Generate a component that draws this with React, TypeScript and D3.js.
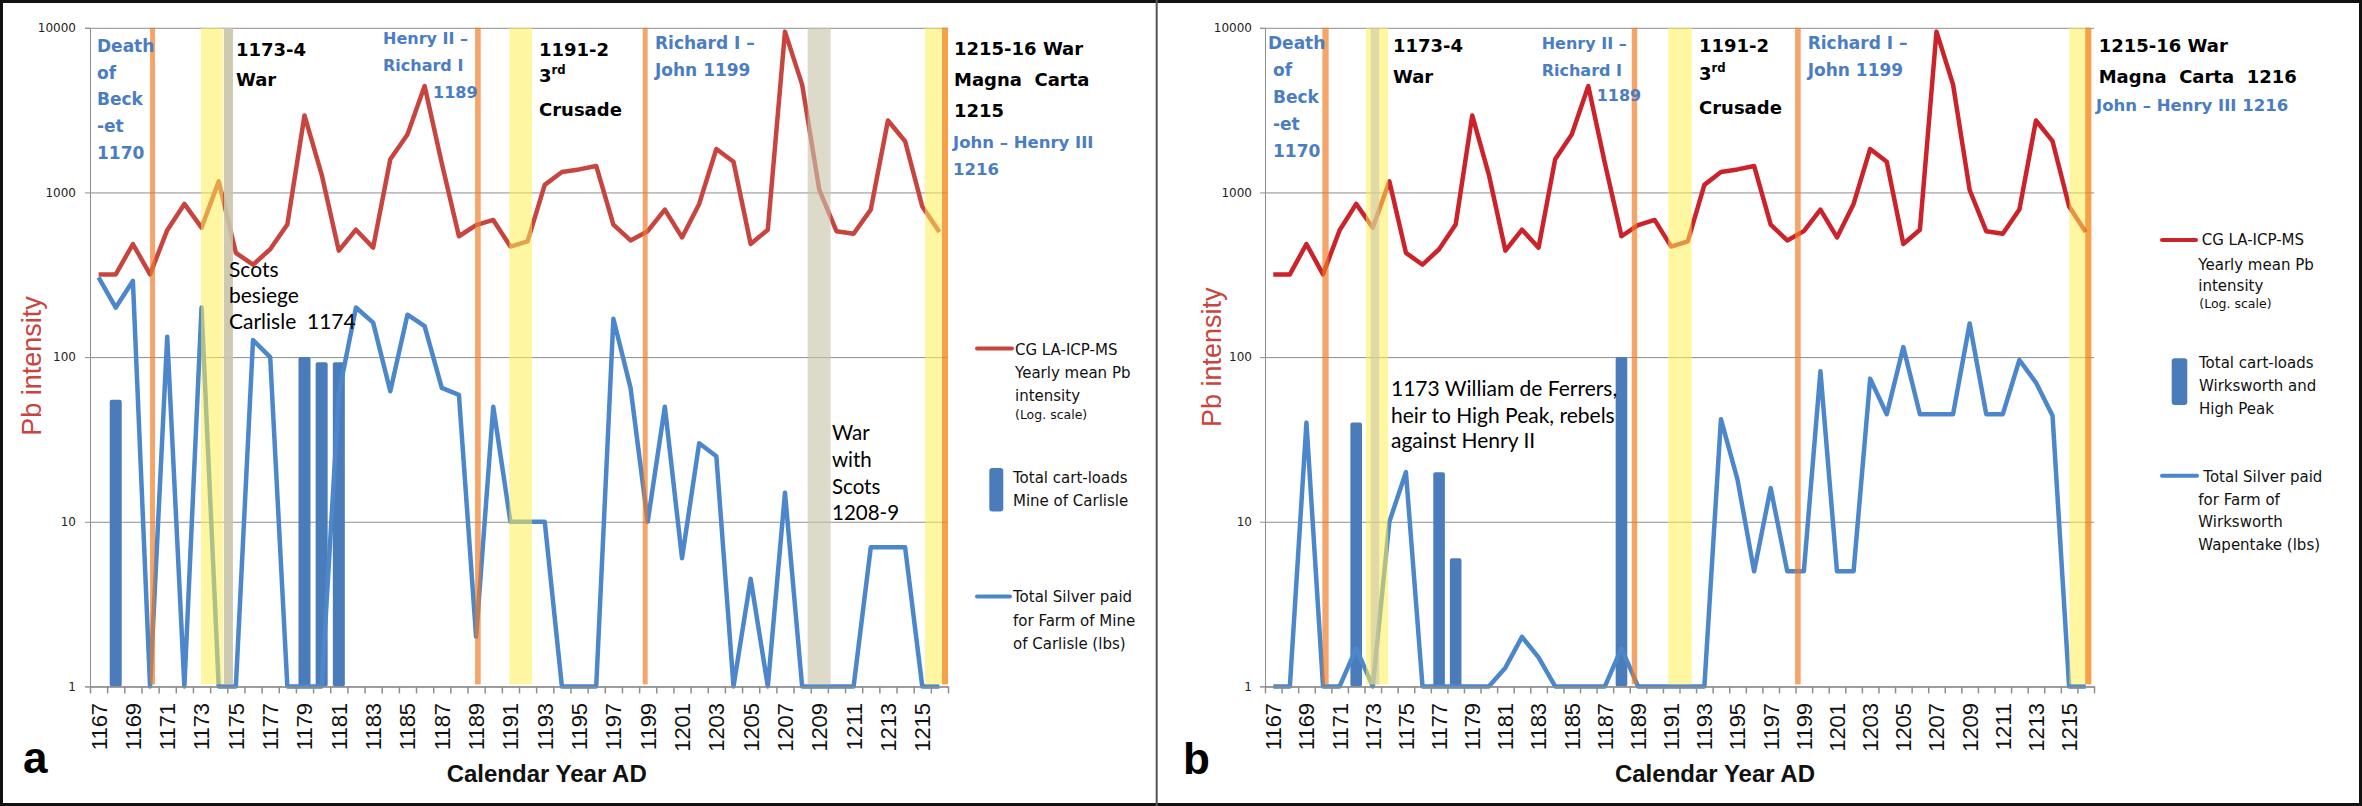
import { useEffect, useRef } from "react"
import * as d3 from "d3"

const W = 2362
const H = 806
const PLOT_TOP = 27.8
const PLOT_BOTTOM = 686.4

// categories
const years = [
  1167, 1168, 1169, 1170, 1171, 1172, 1173, 1174, 1175, 1176,
  1177, 1178, 1179, 1180, 1181, 1182, 1183, 1184, 1185, 1186,
  1187, 1188, 1189, 1190, 1191, 1192, 1193, 1194, 1195, 1196,
  1197, 1198, 1199, 1200, 1201, 1202, 1203, 1204, 1205, 1206,
  1207, 1208, 1209, 1210, 1211, 1212, 1213, 1214, 1215, 1216
]

// CG LA-ICP-MS yearly mean Pb intensity (same in both panels)
const pbIntensity = [
  318, 318, 486, 318, 590, 852, 611, 1168, 430, 364,
  452, 638, 2937, 1285, 443, 594, 462, 1590, 2250, 4425,
  1503, 542, 634, 681, 469, 504, 1112, 1331, 1380, 1449,
  638, 511, 582, 787, 533, 852, 1837, 1535, 486, 594,
  9480, 4520, 1035, 582, 561, 787, 2734, 2048, 822, 575
]

// panel a: Mine of Carlisle
const silverCarlisle = [
  305, 200, 290, 1, 133, 1, 200, 1, 1, 127,
  100, 1, 1, 1, 60, 200, 162, 62, 181, 154,
  65, 59, 2, 50, 10, 10, 10, 1, 1, 1,
  171, 65, 10, 50, 6, 30, 25, 1, 4.5, 1,
  15, 1, 1, 1, 1, 7, 7, 7, 1, 1
]
const cartsCarlisle: (number | null)[] = [
  null, 55, null, null, null, null, null, null, null, null,
  null, null, 100, 93, 93, null, null, null, null, null,
  null, null, null, null, null, null, null, null, null, null,
  null, null, null, null, null, null, null, null, null, null,
  null, null, null, null, null, null, null, null, null, null
]

// panel b: Wirksworth and High Peak
const silverWirksworth = [
  1, 1, 40, 1, 1, 1.7, 1, 10, 20, 1,
  1, 1, 1, 1, 1.3, 2, 1.5, 1, 1, 1,
  1, 1.7, 1, 1, 1, 1, 1, 42, 18, 5,
  16, 5, 5, 82, 5, 5, 74, 45, 115, 45,
  45, 45, 160, 45, 45, 96, 70, 44, 1, 1
]
const cartsWirksworth: (number | null)[] = [
  null, null, null, null, null, 40, null, null, null, null,
  20, 6, null, null, null, null, null, null, null, null,
  null, 100, null, null, null, null, null, null, null, null,
  null, null, null, null, null, null, null, null, null, null,
  null, null, null, null, null, null, null, null, null, null
]

const yTicks = [1, 10, 100, 1000, 10000]

const GRID = "#8e8e8e"
const BLUE_TEXT = "#4a7dc2"
const BAR = "#4a7cba"
const LINE_BLUE = "#4d87cb"
const ORANGE = { fill: "#f07a22", opacity: 0.68 }
const YELLOW = { fill: "#ffee55", opacity: 0.55 }
const GREY = { fill: "#c9c3a9", opacity: 0.62 }

const VERDANA = "'DejaVu Sans', Verdana, sans-serif"
const HUMANIST = "Lato, 'Open Sans', sans-serif"
const NARROW = "'Liberation Sans Narrow', 'Arial Narrow', 'Liberation Sans', Arial, sans-serif"
const ARIAL = "'Liberation Sans', Arial, sans-serif"

type Band = { from: number; to: number; fill: string; opacity: number }
type Line = { t: string; x: number; y: number; sup?: string }
type Note = { kind: "blue" | "black" | "plain"; size: number; lines: Line[] }
type LegendText = { t: string; x: number; y: number; small?: boolean }

interface Panel {
  left: number
  right: number
  red: string
  silver: number[]
  carts: (number | null)[]
  bands: Band[]
  labelPad: number
  pbX: number
  pbY: number
  letter: string
  letterX: number
  letterY: number
  titleX: number
  notes: Note[]
  legRed: [number, number, number]
  legBar: [number, number, number, number]
  legBlue: [number, number, number]
  legText: LegendText[]
}

const band = (from: number, to: number, s: { fill: string; opacity: number }, opacity?: number): Band =>
  ({ from, to, fill: s.fill, opacity: opacity ?? s.opacity })

const panelA: Panel = {
  left: 90,
  right: 948,
  red: "#c8453f",
  silver: silverCarlisle,
  carts: cartsCarlisle,
  bands: [
    band(1170.0, 1170.29, ORANGE),
    band(1172.97, 1174.25, YELLOW),
    band(1174.3, 1174.83, GREY, 0.9),
    band(1188.94, 1189.27, ORANGE),
    band(1190.93, 1192.26, YELLOW),
    band(1198.71, 1199.0, ORANGE),
    band(1208.32, 1209.66, GREY),
    band(1215.16, 1216.15, YELLOW),
    band(1216.15, 1216.5, { fill: "#f28a1a", opacity: 0.8 })
  ],
  labelPad: 9,
  pbX: 31.7,
  pbY: 366,
  letter: "a",
  letterX: 23,
  letterY: 773,
  titleX: 546.7,
  notes: [
    { kind: "blue", size: 17, lines: [
      { t: "Death", x: 97, y: 51.5 }, { t: "of", x: 97, y: 78.5 }, { t: "Beck", x: 97, y: 105.4 },
      { t: "-et", x: 97, y: 132.4 }, { t: "1170", x: 97, y: 158.6 }] },
    { kind: "black", size: 18, lines: [{ t: "1173-4", x: 236, y: 55.5 }, { t: "War", x: 236, y: 86.4 }] },
    { kind: "plain", size: 21, lines: [
      { t: "Scots", x: 229, y: 276.6 }, { t: "besiege", x: 229, y: 303.3 },
      { t: "Carlisle\u00a0\u00a01174", x: 229, y: 329 }] },
    { kind: "blue", size: 16, lines: [
      { t: "Henry II \u2013", x: 383, y: 43.7 }, { t: "Richard I", x: 383, y: 71 }, { t: "1189", x: 433, y: 97.7 }] },
    { kind: "black", size: 18, lines: [
      { t: "1191-2", x: 539, y: 55.5 }, { t: "3", x: 539, y: 82.3, sup: "rd" }, { t: "Crusade", x: 539, y: 115.7 }] },
    { kind: "blue", size: 17, lines: [{ t: "Richard I \u2013", x: 655, y: 48.8 }, { t: "John 1199", x: 655, y: 76 }] },
    { kind: "black", size: 18, lines: [
      { t: "1215-16 War", x: 954, y: 55 }, { t: "Magna\u00a0 Carta", x: 954, y: 85.9 }, { t: "1215", x: 954, y: 116.7 }] },
    { kind: "blue", size: 16.5, lines: [{ t: "John \u2013 Henry III", x: 953, y: 148 }, { t: "1216", x: 953, y: 174.8 }] },
    { kind: "plain", size: 20.5, lines: [
      { t: "War", x: 832, y: 439.6 }, { t: "with", x: 832, y: 466.8 },
      { t: "Scots", x: 832, y: 493.6 }, { t: "1208-9", x: 832, y: 520.3 }] }
  ],
  legRed: [977, 1012, 348.6],
  legBar: [989.3, 467.9, 14, 43.7],
  legBlue: [977, 1010, 596.4],
  legText: [
    { t: "CG LA-ICP-MS", x: 1015, y: 354.8 },
    { t: "Yearly mean Pb", x: 1015, y: 377.9 },
    { t: "intensity", x: 1015, y: 401 },
    { t: "(Log. scale)", x: 1015, y: 419, small: true },
    { t: "Total cart-loads", x: 1013, y: 483.3 },
    { t: "Mine of Carlisle", x: 1013, y: 506.4 },
    { t: "Total Silver paid", x: 1013, y: 601.5 },
    { t: "for Farm of Mine", x: 1013, y: 625.7 },
    { t: "of Carlisle (lbs)", x: 1013, y: 648.8 }
  ]
}

const panelB: Panel = {
  left: 1265,
  right: 2094,
  red: "#cc2229",
  silver: silverWirksworth,
  carts: cartsWirksworth,
  bands: [
    band(1169.96, 1170.34, ORANGE),
    band(1172.59, 1173.93, YELLOW),
    band(1172.875, 1173.39, GREY, 0.55),
    band(1188.62, 1188.95, ORANGE),
    band(1190.82, 1192.24, YELLOW),
    band(1198.47, 1198.81, ORANGE),
    band(1215.01, 1215.97, YELLOW),
    band(1215.97, 1216.34, { fill: "#f28a1a", opacity: 0.8 })
  ],
  labelPad: 8,
  pbX: 1211.7,
  pbY: 357.3,
  letter: "b",
  letterX: 1183,
  letterY: 774,
  titleX: 1715,
  notes: [
    { kind: "blue", size: 17, lines: [
      { t: "Death", x: 1268, y: 48.8 }, { t: "of", x: 1273, y: 76 }, { t: "Beck", x: 1273, y: 102.8 },
      { t: "-et", x: 1273, y: 130 }, { t: "1170", x: 1273, y: 156.8 }] },
    { kind: "black", size: 18, lines: [{ t: "1173-4", x: 1393, y: 52.4 }, { t: "War", x: 1393, y: 83.3 }] },
    { kind: "plain", size: 21, lines: [
      { t: "1173 William de Ferrers,", x: 1391, y: 396 },
      { t: "heir to High Peak, rebels", x: 1391, y: 422.6 },
      { t: "against Henry II", x: 1391, y: 448.3 }] },
    { kind: "blue", size: 16, lines: [
      { t: "Henry II \u2013", x: 1541.7, y: 48.8 }, { t: "Richard I", x: 1541.7, y: 76 }, { t: "1189", x: 1596.7, y: 101.3 }] },
    { kind: "black", size: 18, lines: [
      { t: "1191-2", x: 1699, y: 52.4 }, { t: "3", x: 1699, y: 79.7, sup: "rd" }, { t: "Crusade", x: 1699, y: 114 }] },
    { kind: "blue", size: 17, lines: [{ t: "Richard I \u2013", x: 1807.7, y: 48.8 }, { t: "John 1199", x: 1807.7, y: 76 }] },
    { kind: "black", size: 18, lines: [
      { t: "1215-16 War", x: 2098.7, y: 52.4 }, { t: "Magna\u00a0 Carta\u00a0 1216", x: 2098.7, y: 83.3 }] },
    { kind: "blue", size: 16.5, lines: [{ t: "John \u2013 Henry III 1216", x: 2096, y: 110.5 }] }
  ],
  legRed: [2162, 2196, 240],
  legBar: [2171.7, 358.3, 15.6, 46.7],
  legBlue: [2162, 2197, 475.7],
  legText: [
    { t: "CG LA-ICP-MS", x: 2201.7, y: 245 },
    { t: "Yearly mean Pb", x: 2198.3, y: 270 },
    { t: "intensity", x: 2198.3, y: 291 },
    { t: "(Log. scale)", x: 2199.3, y: 308.3, small: true },
    { t: "Total cart-loads", x: 2199, y: 367.7 },
    { t: "Wirksworth and", x: 2199, y: 391 },
    { t: "High Peak", x: 2199, y: 414.3 },
    { t: "Total Silver paid", x: 2203.3, y: 481.7 },
    { t: "for Farm of", x: 2198.3, y: 505 },
    { t: "Wirksworth", x: 2198.3, y: 527.3 },
    { t: "Wapentake (lbs)", x: 2198.3, y: 550 }
  ]
}

function drawPanel(svg: d3.Selection<SVGSVGElement, unknown, null, undefined>, p: Panel) {
  const width = p.right - p.left
  const x = d3.scaleBand<string>().domain(years.map(String)).range([p.left, p.right])
  const xc = (i: number) => (x(String(years[i])) ?? 0) + x.bandwidth() / 2
  const xs = d3
    .scaleLinear()
    .domain([years[0] - 0.5, years[years.length - 1] + 0.5])
    .range([p.left, p.right])
  const y = d3.scaleLog().domain([1, 10000]).range([PLOT_BOTTOM, PLOT_TOP])

  const g = svg.append("g")

  // Grid lines
  g.append("g")
    .attr("transform", `translate(${p.left},0)`)
    .call(d3.axisLeft(y).tickValues(yTicks).tickSize(-width).tickFormat(() => ""))
    .call(s => s.select(".domain").remove())
    .selectAll("line")
    .attr("stroke", GRID)

  // Bars
  const barW = x.bandwidth() * 0.7
  g.selectAll(".bar")
    .data(p.carts.map((v, i) => ({ v, i })).filter(d => d.v != null))
    .enter()
    .append("rect")
    .attr("x", d => xc(d.i) - barW / 2)
    .attr("y", d => y(d.v as number))
    .attr("width", barW)
    .attr("height", d => PLOT_BOTTOM - y(d.v as number))
    .attr("rx", 2)
    .attr("fill", BAR)

  // Lines
  const line = d3
    .line<number>()
    .x((_, i) => xc(i))
    .y(d => y(d))

  g.append("path")
    .datum(pbIntensity)
    .attr("d", line)
    .attr("fill", "none")
    .attr("stroke", p.red)
    .attr("stroke-width", 4.5)
    .attr("stroke-linejoin", "round")

  g.append("path")
    .datum(p.silver)
    .attr("d", line)
    .attr("fill", "none")
    .attr("stroke", LINE_BLUE)
    .attr("stroke-width", 4.5)
    .attr("stroke-linejoin", "round")

  // Event bands
  g.selectAll(".band")
    .data(p.bands)
    .enter()
    .append("rect")
    .attr("x", d => xs(d.from))
    .attr("width", d => xs(d.to) - xs(d.from))
    .attr("y", PLOT_TOP)
    .attr("height", PLOT_BOTTOM - PLOT_TOP - 2)
    .attr("fill", d => d.fill)
    .attr("opacity", d => d.opacity)

  // Y axis
  const ya = g.append("g")
    .attr("transform", `translate(${p.left},0)`)
    .call(d3.axisLeft(y).tickValues(yTicks).tickSize(5).tickPadding(p.labelPad).tickFormat(d3.format("d")))
  ya.selectAll("line, path").attr("stroke", GRID)
  ya.selectAll("text")
    .style("font-family", VERDANA)
    .style("font-size", "12px")
    .style("fill", "#222")

  // X axis: ticks between years
  const xa = g.append("g")
    .attr("transform", `translate(0,${PLOT_BOTTOM})`)
    .call(
      d3.axisBottom(xs)
        .tickValues(d3.range(years.length + 1).map(i => years[0] - 0.5 + i))
        .tickSize(7)
        .tickSizeOuter(0)
        .tickFormat(() => "")
    )
  xa.selectAll("line, path").attr("stroke", GRID).attr("stroke-width", 1.5)

  g.append("g")
    .attr("transform", `translate(0,${PLOT_BOTTOM})`)
    .call(
      d3.axisBottom(x)
        .tickValues(years.filter((_, i) => i % 2 === 0).map(String))
        .tickSize(0)
    )
    .call(s => s.select(".domain").remove())
    .selectAll("text")
    .attr("transform", "rotate(-90)")
    .attr("text-anchor", "end")
    .attr("x", -16.5)
    .attr("y", 0)
    .attr("dy", "0.36em")
    .style("font-family", NARROW)
    .style("font-size", "22px")
    .style("fill", "#111")

  // Axis titles
  g.append("text")
    .attr("transform", `translate(${p.pbX},${p.pbY}) rotate(-90)`)
    .attr("text-anchor", "middle")
    .attr("dy", "0.35em")
    .style("font-family", NARROW)
    .style("font-size", "27px")
    .style("fill", "#c8453f")
    .text("Pb intensity")

  g.append("text")
    .attr("x", p.titleX)
    .attr("y", 781.5)
    .attr("text-anchor", "middle")
    .style("font-family", ARIAL)
    .style("font-weight", "700")
    .style("font-size", "24px")
    .style("fill", "#111")
    .text("Calendar Year AD")

  g.append("text")
    .attr("x", p.letterX)
    .attr("y", p.letterY)
    .style("font-family", ARIAL)
    .style("font-weight", "700")
    .style("font-size", "44px")
    .style("fill", "#000")
    .text(p.letter)

  // Annotations
  p.notes.forEach(n => {
    n.lines.forEach(l => {
      const t = g.append("text")
        .attr("x", l.x)
        .attr("y", l.y)
        .style("font-family", n.kind === "plain" ? HUMANIST : VERDANA)
        .style("font-weight", n.kind === "plain" ? "400" : "700")
        .style("font-size", `${n.size}px`)
        .style("fill", n.kind === "blue" ? BLUE_TEXT : "#000")
      t.append("tspan").text(l.t)
      if (l.sup) {
        t.append("tspan")
          .attr("dy", -8)
          .style("font-size", `${n.size * 0.65}px`)
          .text(l.sup)
      }
    })
  })

  // Legend
  const [rx1, rx2, ry] = p.legRed
  g.append("line")
    .attr("x1", rx1).attr("x2", rx2).attr("y1", ry).attr("y2", ry)
    .attr("stroke", p.red).attr("stroke-width", 4).attr("stroke-linecap", "round")
  const [bx, by, bw, bh] = p.legBar
  g.append("rect")
    .attr("x", bx).attr("y", by).attr("width", bw).attr("height", bh)
    .attr("rx", 3).attr("fill", BAR)
  const [lx1, lx2, ly] = p.legBlue
  g.append("line")
    .attr("x1", lx1).attr("x2", lx2).attr("y1", ly).attr("y2", ly)
    .attr("stroke", LINE_BLUE).attr("stroke-width", 4).attr("stroke-linecap", "round")

  g.selectAll(".leg")
    .data(p.legText)
    .enter()
    .append("text")
    .attr("x", d => d.x)
    .attr("y", d => d.y)
    .style("font-family", VERDANA)
    .style("font-size", d => (d.small ? "12.5px" : "15px"))
    .style("fill", "#111")
    .text(d => d.t)
}

export default function App() {
  const svgRef = useRef<SVGSVGElement>(null)

  useEffect(() => {
    if (!svgRef.current) return
    const svg = d3.select(svgRef.current)
    svg.selectAll("*").remove()

    svg.append("rect").attr("width", W).attr("height", H).attr("fill", "#fff")

    drawPanel(svg, panelA)
    drawPanel(svg, panelB)

    // Frame and divider
    svg.append("rect")
      .attr("x", 1.5).attr("y", 1.5).attr("width", W - 3).attr("height", H - 3)
      .attr("fill", "none").attr("stroke", "#111").attr("stroke-width", 3)
    svg.append("line")
      .attr("x1", 1156.7).attr("x2", 1156.7).attr("y1", 0).attr("y2", H)
      .attr("stroke", "#555").attr("stroke-width", 2)
  }, [])

  return (
    <div style={{ position: "absolute", left: 0, top: 0 }}>
      <svg ref={svgRef} width={W} height={H} style={{ display: "block" }} />
    </div>
  )
}
